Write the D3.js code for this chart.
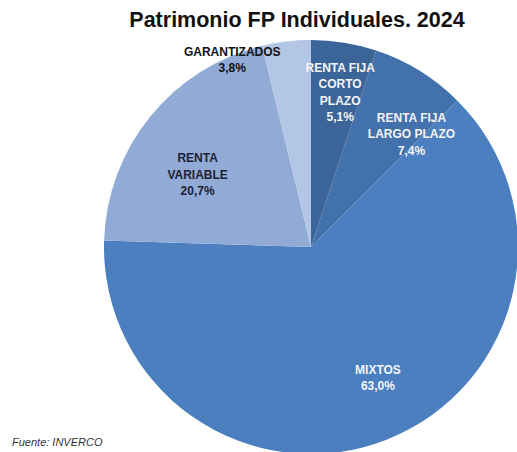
<!DOCTYPE html>
<html>
<head>
<meta charset="utf-8">
<script src="https://cdn.jsdelivr.net/npm/d3@7"></script>
<style>
  body { margin: 0; background: #fff; }
  svg { display: block; font-family: "Liberation Sans", Arial, sans-serif; }
</style>
</head>
<body>
<svg id="chart"></svg>
<script>
// data, clockwise from 12 o'clock
const categories = ['RENTA FIJA CORTO PLAZO', 'RENTA FIJA LARGO PLAZO', 'MIXTOS', 'RENTA VARIABLE', 'GARANTIZADOS'];
const shares = [5.1, 7.4, 63.0, 20.7, 3.8];
const labelLines = [
  ['RENTA FIJA', 'CORTO', 'PLAZO'],
  ['RENTA FIJA', 'LARGO PLAZO'],
  ['MIXTOS'],
  ['RENTA', 'VARIABLE'],
  ['GARANTIZADOS']
];

const colors = ['#3b6499', '#4371ab', '#4b7fbf', '#91abd6', '#b4c6e5'];
const textColors = ['#f4f4f4', '#f4f4f4', '#f4f4f4', '#1c2233', '#111'];
// label placement: angle shift (deg) from slice middle, radius fraction
const labelShift = [1.5, 10, -5.5, -6.5, -16];
const labelRadius = [0.76, 0.73, 0.71, 0.65, 0.98];

const width = 517, height = 452;
const cx = 311, cy = 247, r = 207;

const svg = d3.select('#chart').attr('width', width).attr('height', height);

svg.append('text')
  .attr('x', 297).attr('y', 27)
  .attr('text-anchor', 'middle')
  .attr('font-size', 21.5).attr('font-weight', 'bold')
  .attr('fill', '#111')
  .text('Patrimonio FP Individuales. 2024');

const pie = d3.pie().sort(null).value(d => d);
const arcs = pie(shares);
const arc = d3.arc().innerRadius(0).outerRadius(r);

const g = svg.append('g').attr('transform', `translate(${cx},${cy})`);

g.selectAll('path.slice')
  .data(arcs)
  .join('path')
  .attr('class', 'slice')
  .attr('d', arc)
  .attr('fill', (d, i) => colors[i]);

const fmt = v => v.toFixed(1).replace('.', ',') + '%';
const lh = 16.5;

arcs.forEach((d, i) => {
  const a = (d.startAngle + d.endAngle) / 2 + labelShift[i] * Math.PI / 180;
  const rr = r * labelRadius[i];
  const x = Math.sin(a) * rr, y = -Math.cos(a) * rr;
  const lines = labelLines[i].concat([fmt(shares[i])]);
  const t = g.append('text')
    .attr('text-anchor', 'middle')
    .attr('font-size', 12).attr('font-weight', 'bold')
    .attr('fill', textColors[i]);
  const y0 = y - (lines.length - 1) * lh / 2 + 4;
  lines.forEach((ln, j) => {
    t.append('tspan').attr('x', x).attr('y', y0 + j * lh).text(ln);
  });
});

svg.append('text')
  .attr('x', 12).attr('y', 446)
  .attr('font-size', 11).attr('font-style', 'italic')
  .attr('fill', '#333')
  .text('Fuente: INVERCO');
</script>
</body>
</html>
